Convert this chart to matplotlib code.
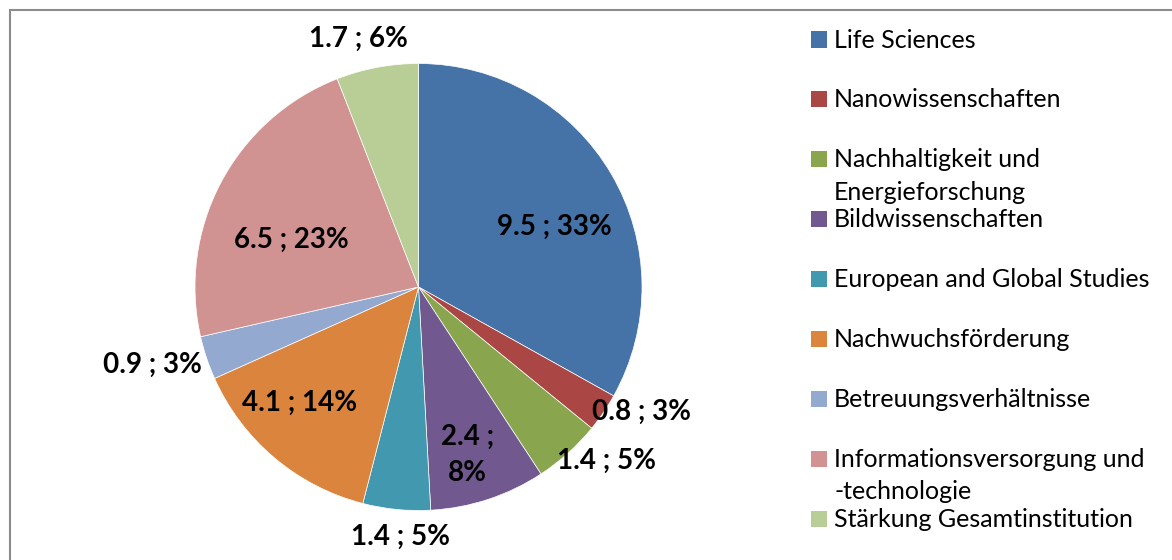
import matplotlib.pyplot as plt
from matplotlib.patches import Rectangle

categories = [
    "Life Sciences",
    "Nanowissenschaften",
    "Nachhaltigkeit und\nEnergieforschung",
    "Bildwissenschaften",
    "European and Global Studies",
    "Nachwuchsförderung",
    "Betreuungsverhältnisse",
    "Informationsversorgung und\n-technologie",
    "Stärkung Gesamtinstitution",
]
values = [9.5, 0.8, 1.4, 2.4, 1.4, 4.1, 0.9, 6.5, 1.7]
colors = ["#4572A7", "#AA4643", "#89A54E", "#71588F", "#4198AF",
          "#DB843D", "#93A9CF", "#D19392", "#B9CD96"]

# label positions in pie-radius units (x, y) relative to pie centre
label_pos = [(0.61, 0.27), (1.0, -0.56), (0.84, -0.78), (0.22, -0.75),
             (-0.08, -1.12), (-0.53, -0.52), (-1.19, -0.35), (-0.57, 0.21),
             (-0.27, 1.11)]
label_break = [False, False, False, True, False, False, False, False, False]

W, H = 1172, 560
fig = plt.figure(figsize=(W / 100, H / 100), dpi=100)

# outer chart frame
fig.patches.append(Rectangle((10 / W, -0.2), 1.5, (H - 10) / H + 0.2,
                             transform=fig.transFigure, fill=False,
                             edgecolor="#8c8c8c", linewidth=1.5))

cx, cy, r = 418.5, H - 287, 223.5
ax = fig.add_axes([(cx - r) / W, (cy - r) / H, 2 * r / W, 2 * r / H])
ax.pie(values, colors=colors, startangle=90, counterclock=False,
       radius=1, wedgeprops=dict(edgecolor="white", linewidth=0.5))
ax.set_xlim(-1, 1)
ax.set_ylim(-1, 1)
ax.axis("off")

total = sum(values)
for v, (lx, ly), brk in zip(values, label_pos, label_break):
    pct = round(v / total * 100)
    sep = " ;\n" if brk else " ; "
    ax.text(lx, ly, f"{v}{sep}{pct}%", ha="center", va="center",
            fontsize=20, fontweight="bold", family="Lato",
            linespacing=1.5, clip_on=False)

# manual legend, each wrapped line drawn on its own
for i, (name, col) in enumerate(zip(categories, colors)):
    base = 47.5 + i * 59.9
    fig.patches.append(Rectangle((811 / W, 1 - base / H), 16 / W, 16 / H,
                                 transform=fig.transFigure, facecolor=col,
                                 edgecolor="none"))
    for j, line in enumerate(name.split("\n")):
        fig.text(834 / W, 1 - (base + j * 32.5) / H, line, ha="left",
                 va="baseline", fontsize=18, family="Lato")

fig.savefig("out.png", dpi=100)
